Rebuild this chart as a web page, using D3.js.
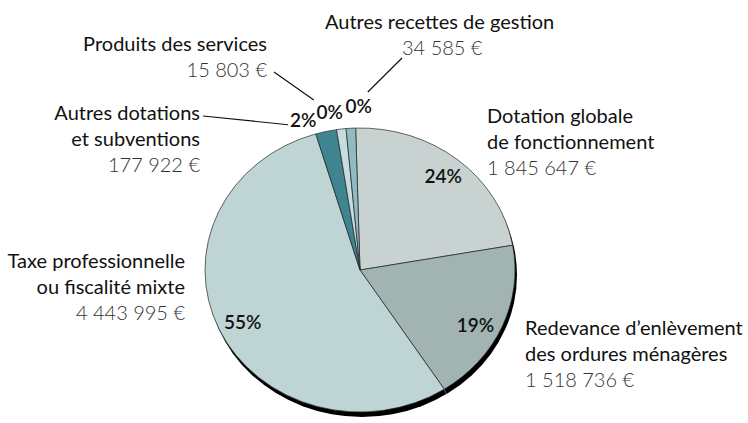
<!DOCTYPE html>
<html>
<head>
<meta charset="utf-8">
<script src="https://cdn.jsdelivr.net/npm/d3@7"></script>
<style>
  body { margin: 0; background: #fff; }
  svg { display: block; font-family: "Lato", "Open Sans", sans-serif; }
</style>
</head>
<body>
<div id="chart"></div>
<script>
// data
const categories = [
    ["Dotation globale", "de fonctionnement"],
    ["Redevance d\u2019enlèvement", "des ordures ménagères"],
    ["Taxe professionnelle", "ou fiscalité mixte"],
    ["Autres dotations", "et subventions"],
    ["Produits des services"],
    ["Autres recettes de gestion"]
];
const amounts = [1845647, 1518736, 4443995, 177922, 15803, 34585];
const pctLabels = ["24%", "19%", "55%", "2%", "0%", "0%"];
const colors = ["#c8d2d1", "#a1b4b1", "#bed4d5", "#3f848e", "#c6dcdf", "#8fbbc1"];

const width = 748;
const height = 423;
const cx = 360, cy = 270;
const r = 155;
const ry = 142;

// label layout: name block position + anchor, optional value x
const nameLayout = [
    { x: 487, y: 123, anchor: "start" },
    { x: 525, y: 335, anchor: "start" },
    { x: 185, y: 268, anchor: "end" },
    { x: 200, y: 120, anchor: "end" },
    { x: 267, y: 51, anchor: "end" },
    { x: 325, y: 29, anchor: "start", valueX: 402 }
];
// pct label: angle nudge (deg) and radius factor
const pctLayout = [
    { da: 0, k: 0.85 }, { da: 4, k: 0.84 }, { da: -1, k: 0.84 },
    { da: -6.5, k: 1.12 }, { da: -3, k: 1.13 }, { da: 3, k: 1.155 }
];
// leader lines: start near the name, offset from pct label centre
const leaders = [null, null, null,
    { from: [203, 116], off: [-15, 5] },
    { from: [274, 72], off: [-16, -12] },
    { from: [402, 58], off: [9, -14] }
];

const locale = d3.formatLocale({ decimal: ",", thousands: " ", grouping: [3], currency: ["", " €"] });
const fmt = locale.format(",d");

const svg = d3.select("#chart").append("svg")
    .attr("width", width)
    .attr("height", height);

const total = d3.sum(amounts);
// tiny slices get a 1% minimum so they stay visible
const pie = d3.pie()
    .sort(null)
    .value(d => Math.max(d, total * 0.01))
    .startAngle(-1.6 * Math.PI / 180)
    .endAngle((360 - 1.6) * Math.PI / 180);

const arcs = pie(amounts);
const arc = d3.arc().innerRadius(0).outerRadius(r);

// rim / shadow
svg.append("ellipse")
    .attr("cx", cx + 2)
    .attr("cy", cy + 5)
    .attr("rx", r)
    .attr("ry", ry)
    .attr("fill", "#000");

const g = svg.append("g")
    .attr("transform", "translate(" + cx + "," + cy + ") scale(1," + (ry / r) + ")");

g.selectAll("path")
    .data(arcs)
    .enter().append("path")
    .attr("d", arc)
    .attr("fill", (d, i) => colors[i])
    .attr("stroke", "#2a2a2a")
    .attr("stroke-width", 0.7)
    .attr("vector-effect", "non-scaling-stroke");

// facet line on the rim at slice boundaries (lower half only)
const rimLines = arcs.map(d => d.endAngle).filter(a => Math.cos(a) < -0.2);
svg.selectAll(".rim")
    .data(rimLines)
    .enter().append("line")
    .attr("x1", a => cx + r * Math.sin(a))
    .attr("y1", a => cy - ry * Math.cos(a))
    .attr("x2", a => cx + r * Math.sin(a) + 2)
    .attr("y2", a => cy - ry * Math.cos(a) + 5)
    .attr("stroke", "#777")
    .attr("stroke-width", 0.7);

// percentage labels
const pctPos = arcs.map((d, i) => {
    const a = (d.startAngle + d.endAngle) / 2 + pctLayout[i].da * Math.PI / 180;
    return [cx + r * pctLayout[i].k * Math.sin(a), cy - ry * pctLayout[i].k * Math.cos(a)];
});

svg.selectAll(".pct")
    .data(pctLabels)
    .enter().append("text")
    .attr("class", "pct")
    .attr("x", (d, i) => pctPos[i][0])
    .attr("y", (d, i) => pctPos[i][1])
    .attr("dy", "0.36em")
    .attr("text-anchor", "middle")
    .style("font-size", "19px")
    .style("font-weight", "600")
    .style("fill", "#111")
    .text(d => d);

// leader lines
leaders.forEach((l, i) => {
    if (!l) return;
    svg.append("line")
        .attr("x1", l.from[0])
        .attr("y1", l.from[1])
        .attr("x2", pctPos[i][0] + l.off[0])
        .attr("y2", pctPos[i][1] + l.off[1])
        .attr("stroke", "#111")
        .attr("stroke-width", 1.2);
});

// name + value labels
const lineH = 26;
categories.forEach((lines, i) => {
    const L = nameLayout[i];
    const t = svg.append("g");
    lines.forEach((s, j) => {
        t.append("text")
            .attr("x", L.x)
            .attr("y", L.y + j * lineH)
            .attr("text-anchor", L.anchor)
            .style("font-size", "20px")
            .style("fill", "#111")
            .text(s);
    });
    t.append("text")
        .attr("x", L.valueX || L.x)
        .attr("y", L.y + lines.length * lineH)
        .attr("text-anchor", L.anchor)
        .style("font-size", "20px")
        .style("font-weight", "300")
        .style("fill", "#333")
        .text(fmt(amounts[i]) + " €");
});
</script>
</body>
</html>
